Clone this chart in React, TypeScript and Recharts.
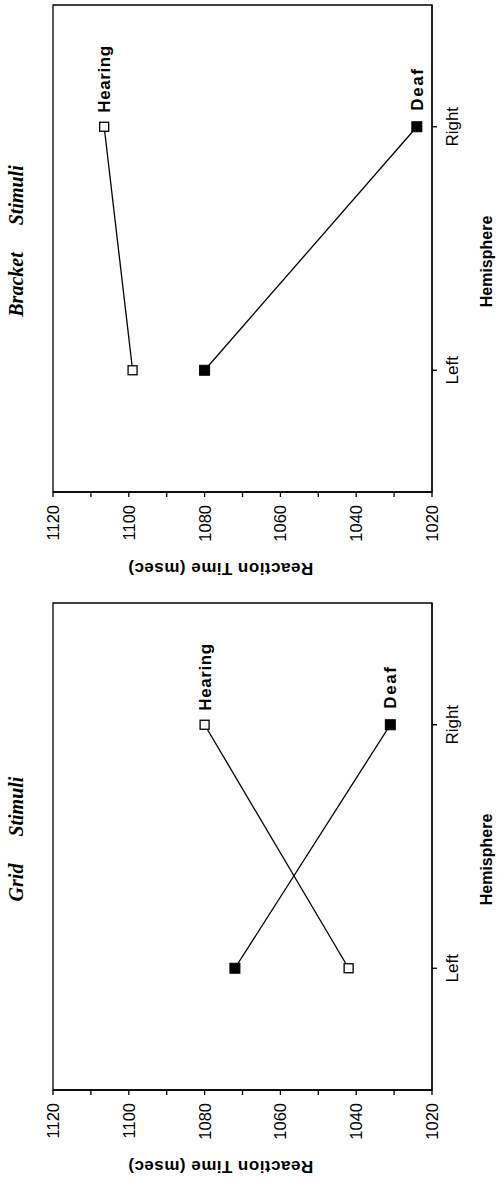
import React from 'react';
import { LineChart, Line, XAxis, YAxis, ReferenceArea, LabelList, Label } from 'recharts';

const HEMISPHERES = ['Left', 'Right'];
const Y_TICKS = [1020, 1030, 1040, 1050, 1060, 1070, 1080, 1090, 1100, 1110, 1120];
const SERIES_NAMES = ['Hearing', 'Deaf'];

// bracket stimuli (upper figure on the page)
const BRACKET_HEARING = [1099, 1106.5];
const BRACKET_DEAF = [1080, 1024];

// grid stimuli (lower figure on the page)
const GRID_HEARING = [1042, 1080];
const GRID_DEAF = [1072, 1031];

const PANELS = [
  { title: 'Bracket Stimuli', hearing: BRACKET_HEARING, deaf: BRACKET_DEAF },
  { title: 'Grid Stimuli', hearing: GRID_HEARING, deaf: GRID_DEAF },
];

// each figure is drawn upright, then turned a quarter to the left like the scan
const W = 580;
const H = 497;
const PANEL_STEP = 598;
const SANS = '"Liberation Sans", Arial, sans-serif';
const SERIF = '"Liberation Serif", "Times New Roman", serif';

const hollowDot = (p: any) => (
  <rect key={`h${p.index}`} x={p.cx - 4.5} y={p.cy - 4.5} width={9} height={9} fill="#fff" stroke="#000" strokeWidth={1.3} />
);

const filledDot = (p: any) => (
  <rect key={`d${p.index}`} x={p.cx - 5} y={p.cy - 5} width={10} height={10} fill="#000" stroke="#000" />
);

const endTag = (name: string, spacing: number, gap: number) => (p: any) => {
  if (p.index !== HEMISPHERES.length - 1) return null;
  return (
    <text x={p.x + gap} y={p.y} dy="0.36em" fontFamily={SANS} fontWeight="bold" fontSize={17} letterSpacing={spacing} fill="#000">
      {name}
    </text>
  );
};

const XTick = (p: any) => (
  <text x={p.x} y={p.y} dy="0.71em" textAnchor="middle" fontFamily={SANS} fontSize={17} fill="#000">
    {HEMISPHERES[p.payload.value - 1]}
  </text>
);

const YTick = (p: any) => {
  const v = p.payload.value;
  if ((v - 1020) % 20 !== 0) return <g />;
  return (
    <text x={p.x} y={p.y} dy="0.36em" textAnchor="end" fontFamily={SANS} fontSize={16.5} fill="#000">
      {v}
    </text>
  );
};

const YTitle = (p: any) => {
  const vb = p.viewBox;
  const cx = vb.x + 17;
  const cy = vb.y + vb.height / 2 - 22;
  return (
    <text x={cx} y={cy} transform={`rotate(-90, ${cx}, ${cy})`} textAnchor="middle" fontFamily={SANS} fontWeight="bold" fontSize={17} letterSpacing={0.5} fill="#000">
      Reaction Time (msec)
    </text>
  );
};

const XTitle = (p: any) => {
  const vb = p.viewBox;
  return (
    <text x={vb.x + vb.width / 2 - 13} y={vb.y + 59.5} textAnchor="middle" fontFamily={SANS} fontWeight="bold" fontSize={16} fill="#000">
      Hemisphere
    </text>
  );
};

const Panel = ({ panel }: { panel: (typeof PANELS)[number] }) => {
  const rows = HEMISPHERES.map((h, i) => ({ pos: i + 1, name: h, hearing: panel.hearing[i], deaf: panel.deaf[i] }));
  return (
    <div style={{ position: 'relative', width: W, height: H }}>
      <LineChart width={W} height={H} data={rows} margin={{ top: 53, right: 5, bottom: 0, left: 0 }}>
        <XAxis
          dataKey="pos"
          type="number"
          domain={[0.5, 2.5]}
          ticks={[1, 2]}
          height={65}
          tickSize={5}
          tickMargin={9}
          stroke="#000"
          strokeWidth={1.3}
          tick={XTick}
        >
          <Label content={XTitle} />
        </XAxis>
        <YAxis
          type="number"
          domain={[1020, 1120]}
          ticks={Y_TICKS}
          interval={0}
          width={88}
          tickSize={5}
          tickMargin={8}
          stroke="#000"
          strokeWidth={1.3}
          tick={YTick}
        >
          <Label content={YTitle} />
        </YAxis>
        <ReferenceArea x1={0.5} x2={2.5} y1={1020} y2={1120} fill="none" stroke="#000" strokeWidth={1.3} ifOverflow="visible" />
        <Line dataKey="hearing" stroke="#000" strokeWidth={1.3} dot={hollowDot} isAnimationActive={false}>
          <LabelList dataKey="hearing" content={endTag(SERIES_NAMES[0], 0.6, 14)} />
        </Line>
        <Line dataKey="deaf" stroke="#000" strokeWidth={1.3} dot={filledDot} isAnimationActive={false}>
          <LabelList dataKey="deaf" content={endTag(SERIES_NAMES[1], 1.6, 16)} />
        </Line>
      </LineChart>
      <svg width={W} height={H} style={{ position: 'absolute', left: 0, top: 0, pointerEvents: 'none' }}>
        <text x={339} y={23} textAnchor="middle" fontFamily={SERIF} fontStyle="italic" fontWeight="bold" fontSize={20} style={{ wordSpacing: '22px' }} fill="#000">
          {panel.title}
        </text>
      </svg>
    </div>
  );
};

export default function App() {
  return (
    <div style={{ position: 'absolute', left: 0, top: 0, width: 497, height: 1178, background: '#fff', overflow: 'hidden' }}>
      {PANELS.map((panel, i) => (
        <div
          key={panel.title}
          style={{
            position: 'absolute',
            left: 0,
            top: i * PANEL_STEP,
            width: W,
            height: H,
            transformOrigin: '0 0',
            transform: `translate(0px, ${W}px) rotate(-90deg)`,
          }}
        >
          <Panel panel={panel} />
        </div>
      ))}
    </div>
  );
}
